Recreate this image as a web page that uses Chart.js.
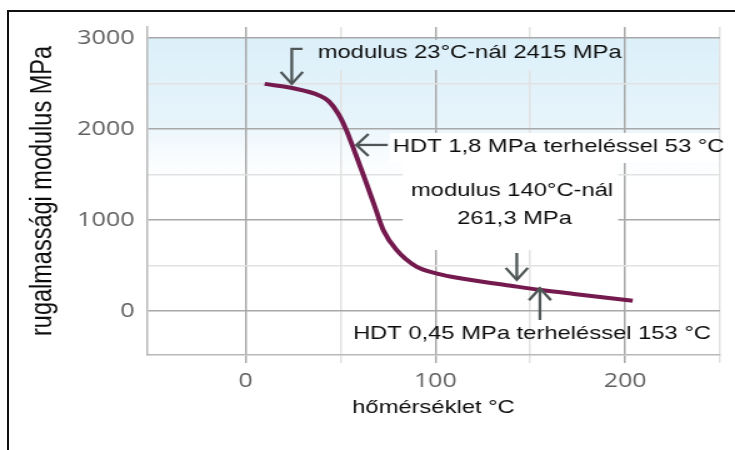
<!DOCTYPE html>
<html>
<head>
<meta charset="utf-8">
<script src="https://cdn.jsdelivr.net/npm/chart.js"></script>
<style>
  html, body { margin: 0; padding: 0; background: #fff; }
  #keret { position: absolute; left: 7px; top: 10px; width: 740px; height: 450px;
           border-left: 2px solid #111; border-top: 2px solid #111; }
  /* the original picture is stretched sideways, so the canvas is too */
  #doboz { position: absolute; left: 0; top: 0; width: 588px; height: 450px;
           transform: scaleX(1.25); transform-origin: 0 0; }
</style>
</head>
<body>
<div id="keret"></div>
<div id="doboz"><canvas id="modulus-grafikon" width="588" height="450"></canvas></div>
<script>
// hőmérséklet (°C) és rugalmassági modulus (MPa)
var homerseklet = [10, 25, 39, 44, 49, 53, 58, 63, 68, 72.5, 79.5, 90, 102, 113, 143, 155, 173, 204];
var modulus     = [2495, 2447, 2365, 2300, 2160, 1990, 1720, 1440, 1150, 890, 670, 487, 405, 360, 267, 232, 187, 113];

var xTickek = [0, 50, 100, 150, 200, 250];
var yTickek = [0, 500, 1000, 1500, 2000, 2500, 3000];

// feliratok: szöveg, hely (°C, MPa), igazítás
var feliratok = [
    { szoveg: 'modulus 23°C-nál 2415 MPa', x: 38, y: 2835, igazit: 'left' },
    { szoveg: 'HDT 1,8 MPa terheléssel 53 °C', x: 77.6, y: 1802, igazit: 'left' },
    { szoveg: 'modulus 140°C-nál', x: 140.4, y: 1319, igazit: 'center' },
    { szoveg: '261,3 MPa', x: 141.7, y: 1011, igazit: 'center' },
    { szoveg: 'HDT 0,45 MPa terheléssel 153 °C', x: 150.9, y: -253, igazit: 'center' }
];

// nyilak: töréspontok (°C, MPa), a hegy az utolsó ponton
var nyilak = [
    [[30, 2879], [24.3, 2879], [24.3, 2495]],
    [[74.9, 1824], [58.4, 1824]],
    [[142.9, 637], [142.9, 341]],
    [[155.1, -99], [155.1, 249]]
];

// fehér / kék hátterű téglalapok a szövegek mögött: [x1, x2, y1, y2]
var hatterek = [
    { t: [28.5, 198.4, 2978, 2648], kek: true },
    { t: [76, 252, 1956, 1626], kek: false },
    { t: [82.8, 196.3, 1626, 670], kek: false }
];

var NYUJTAS = 1.25;

function kekSzin(chart) {
    var y = chart.scales.y;
    var g = chart.ctx.createLinearGradient(0, y.getPixelForValue(3000), 0, y.getPixelForValue(1300));
    g.addColorStop(0, '#dcf0fa');
    g.addColorStop(0.55, '#e7f4fb');
    g.addColorStop(1, 'rgba(255,255,255,0)');
    return g;
}

var jelolesek = {
    id: 'jelolesek',
    beforeDraw: function (chart) {
        var ctx = chart.ctx, a = chart.chartArea, y = chart.scales.y;
        ctx.save();
        ctx.fillStyle = kekSzin(chart);
        var y0 = y.getPixelForValue(3000);
        ctx.fillRect(a.left, y0, a.right - a.left, y.getPixelForValue(1300) - y0);
        ctx.restore();
    },
    beforeDatasetsDraw: function (chart) {
        var ctx = chart.ctx, sx = chart.scales.x, sy = chart.scales.y, a = chart.chartArea;
        ctx.save();
        hatterek.forEach(function (h) {
            var x1 = Math.max(sx.getPixelForValue(h.t[0]), a.left + 1);
            var x2 = Math.min(sx.getPixelForValue(h.t[1]), a.right - 1);
            var y1 = sy.getPixelForValue(h.t[2]);
            var y2 = sy.getPixelForValue(h.t[3]);
            ctx.fillStyle = h.kek ? kekSzin(chart) : '#ffffff';
            ctx.fillRect(x1, y1, x2 - x1, y2 - y1);
        });
        ctx.restore();
    },
    afterDatasetsDraw: function (chart) {
        var ctx = chart.ctx, sx = chart.scales.x, sy = chart.scales.y;
        ctx.save();
        ctx.strokeStyle = '#4e5656';
        ctx.lineWidth = 2.3;
        ctx.lineCap = 'butt';
        nyilak.forEach(function (ny) {
            var p = ny.map(function (q) { return [sx.getPixelForValue(q[0]), sy.getPixelForValue(q[1])]; });
            ctx.beginPath();
            ctx.moveTo(p[0][0], p[0][1]);
            for (var i = 1; i < p.length; i++) ctx.lineTo(p[i][0], p[i][1]);
            ctx.stroke();
            // nyílhegy, a nyújtott képen mérve
            var hegy = p[p.length - 1], elo = p[p.length - 2];
            var dx = (hegy[0] - elo[0]) * NYUJTAS, dy = hegy[1] - elo[1];
            var h = Math.sqrt(dx * dx + dy * dy), ux = dx / h, uy = dy / h;
            var vissza = 12, fel = 11;
            ctx.beginPath();
            ctx.moveTo(hegy[0] + (-ux * vissza - uy * fel) / NYUJTAS, hegy[1] - uy * vissza + ux * fel);
            ctx.lineTo(hegy[0], hegy[1]);
            ctx.lineTo(hegy[0] + (-ux * vissza + uy * fel) / NYUJTAS, hegy[1] - uy * vissza - ux * fel);
            ctx.stroke();
        });
        ctx.fillStyle = '#0d0d0d';
        ctx.font = '19px "Liberation Sans", Arial, sans-serif';
        ctx.textBaseline = 'middle';
        feliratok.forEach(function (f) {
            ctx.textAlign = f.igazit;
            ctx.fillText(f.szoveg, sx.getPixelForValue(f.x), sy.getPixelForValue(f.y));
        });
        ctx.restore();
    }
};

function racsSzin(fo) {
    return function (c) {
        if (!c.tick) return '#e2e2e2';
        return c.tick.value % fo === 0 ? '#a8a8a8' : '#e2e2e2';
    };
}

new Chart(document.getElementById('modulus-grafikon'), {
    type: 'line',
    data: {
        labels: homerseklet,
        datasets: [{
            label: 'rugalmassági modulus',
            data: homerseklet.map(function (t, i) { return { x: t, y: modulus[i] }; }),
            borderColor: '#741a4e',
            borderWidth: 4,
            pointRadius: 0,
            fill: false,
            cubicInterpolationMode: 'monotone'
        }]
    },
    options: {
        responsive: false,
        animation: false,
        layout: { padding: { top: 27, right: 12, left: 0, bottom: 0 } },
        plugins: { legend: { display: false }, tooltip: { enabled: false } },
        scales: {
            x: {
                type: 'linear',
                min: -52,
                max: 250,
                afterBuildTicks: function (s) { s.ticks = xTickek.map(function (v) { return { value: v }; }); },
                afterFit: function (s) { s.height = 95; },
                grid: { color: racsSzin(100), lineWidth: 1.5, tickLength: 8 },
                border: { color: '#b8b8b8', width: 1.5 },
                ticks: {
                    color: '#5f5f5f',
                    padding: 6,
                    maxRotation: 0,
                    autoSkip: false,
                    font: { family: '"Open Sans", sans-serif', size: 20 },
                    callback: function (v) { return v % 100 === 0 ? v : ''; }
                },
                title: {
                    display: true,
                    text: 'hőmérséklet °C',
                    color: '#0d0d0d',
                    padding: { top: 0, bottom: 31 },
                    font: { family: '"Liberation Sans", Arial, sans-serif', size: 19 }
                }
            },
            y: {
                min: -484,
                max: 3120,
                afterBuildTicks: function (s) { s.ticks = yTickek.map(function (v) { return { value: v }; }); },
                afterFit: function (s) { s.width = 117.6; },
                grid: { color: racsSzin(1000), lineWidth: 1.5, drawTicks: false },
                border: { color: '#b8b8b8', width: 1.5 },
                ticks: {
                    color: '#5f5f5f',
                    padding: 10,
                    autoSkip: false,
                    font: { family: '"Open Sans", sans-serif', size: 20 },
                    callback: function (v) { return v % 1000 === 0 ? v : ''; }
                },
                title: {
                    display: true,
                    text: 'rugalmassági modulus MPa',
                    color: '#0d0d0d',
                    padding: { top: 20, bottom: 0 },
                    font: { family: '"Liberation Sans", Arial, sans-serif', size: 23.5 }
                }
            }
        }
    },
    plugins: [jelolesek]
});
</script>
</body>
</html>
